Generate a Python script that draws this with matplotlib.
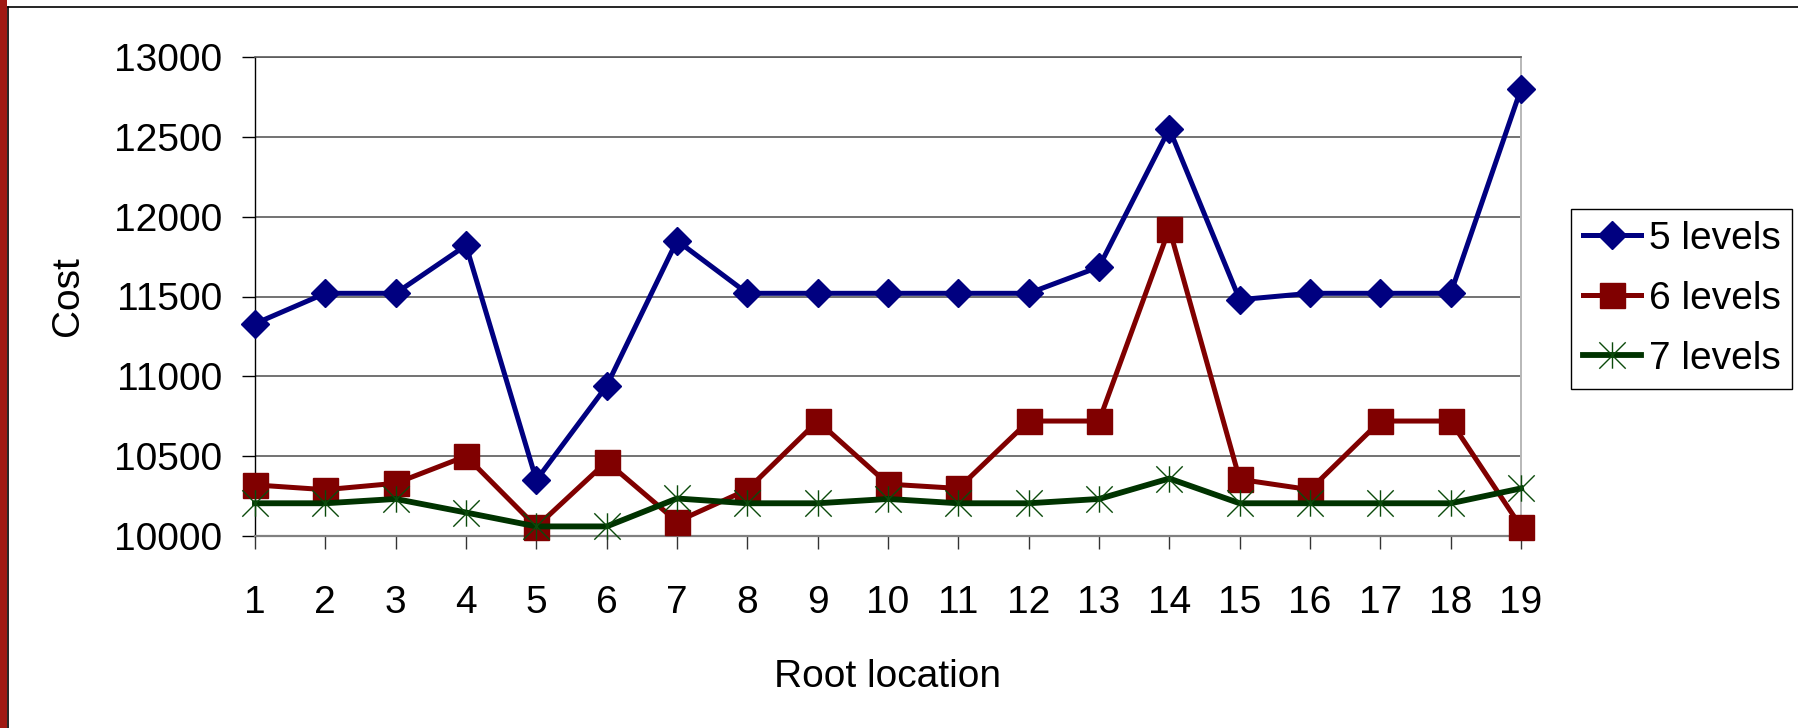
from matplotlib import pyplot as plt
from matplotlib.path import Path
from matplotlib.patches import Rectangle
from matplotlib.lines import Line2D
import numpy as np

plt.rcParams['font.family'] = ['Liberation Sans', 'DejaVu Sans']

roots = list(range(1, 20))
levels5 = [11330, 11520, 11520, 11820, 10350, 10940, 11850, 11520, 11520, 11520,
           11520, 11520, 11685, 12550, 11480, 11520, 11520, 11520, 12800]
levels6 = [10320, 10290, 10330, 10500, 10057, 10466, 10090, 10290, 10720, 10325,
           10298, 10720, 10720, 11925, 10355, 10290, 10720, 10720, 10057]
levels7 = [10205, 10205, 10232, 10147, 10060, 10060, 10235, 10205, 10205, 10232,
           10205, 10205, 10232, 10360, 10205, 10205, 10205, 10205, 10298]
series_names = ["5 levels", "6 levels", "7 levels"]
y_ticks = [10000, 10500, 11000, 11500, 12000, 12500, 13000]

# star marker: vertical stroke + X
star = Path([(0, -1), (0, 1), (-1, -1), (1, 1), (-1, 1), (1, -1)],
            [Path.MOVETO, Path.LINETO, Path.MOVETO, Path.LINETO, Path.MOVETO, Path.LINETO])

W, H = 1798, 728
fig = plt.figure(figsize=(W / 100, H / 100), dpi=100)
ax = fig.add_axes([255 / W, (H - 536) / H, 1266 / W, 479 / H])

ax.plot(roots, levels5, color='#000080', lw=3.6, marker='D', ms=14, mew=1,
        label=series_names[0], clip_on=False, zorder=3)
ax.plot(roots, levels6, color='#800000', lw=3.6, marker='s', ms=18, mew=1,
        label=series_names[1], clip_on=False, zorder=4)
ax.plot(roots, levels7, color='#003300', lw=4.2, marker=star, ms=19, mew=1,
        mfc='none', mec='#0b4a0b', label=series_names[2], clip_on=False, zorder=5)

ax.set_xlim(1, 19)
ax.set_ylim(10000, 13000)
ax.set_xticks(roots)
ax.set_yticks(y_ticks)
ax.yaxis.grid(True, color='#5a5a5a', lw=1.2)
ax.set_axisbelow(True)

ax.tick_params(axis='y', direction='out', length=9.5, width=1, pad=14, labelsize=28, color='black')
ax.tick_params(axis='x', direction='out', length=9.5, width=1, pad=26, labelsize=28, color='#333333')

ax.spines['top'].set_color('#5a5a5a')
ax.spines['top'].set_linewidth(1.2)
ax.spines['left'].set_color('black')
ax.spines['left'].set_linewidth(1.0)
ax.spines['bottom'].set_color('#808080')
ax.spines['bottom'].set_linewidth(1.6)
ax.spines['right'].set_color('#b8b8b8')
ax.spines['right'].set_linewidth(1.4)

ax.set_xlabel("Root location", fontsize=28)
ax.xaxis.label.set_va('center')
ax.xaxis.set_label_coords(0.5, -0.295)
ax.set_ylabel("Cost", fontsize=28)
ax.yaxis.label.set_va('center')
ax.yaxis.label.set_ha('center')
ax.yaxis.set_label_coords(-0.148, 0.5)

leg = fig.legend(loc='upper left', bbox_to_anchor=(1571 / W, 1 - 209 / H),
                 fontsize=28, frameon=True, fancybox=False, borderaxespad=0,
                 borderpad=0.3, handlelength=1.5, handletextpad=0.2,
                 labelspacing=0.62)
leg.get_frame().set_edgecolor('black')
leg.get_frame().set_linewidth(1.0)
leg.get_frame().set_alpha(1)

# slide frame: dark red bar on the left and thin black border
fig.patches.append(Rectangle((0, 0), 7 / W, 1, transform=fig.transFigure,
                             facecolor='#a01a14', edgecolor='none'))
fig.lines.append(Line2D([8 / W, 8 / W], [0, 1 - 7 / H], transform=fig.transFigure,
                        color='black', lw=1.2))
fig.lines.append(Line2D([8 / W, 1], [1 - 7 / H, 1 - 7 / H], transform=fig.transFigure,
                        color='black', lw=1.2))

fig.savefig("out.png", dpi=100)
